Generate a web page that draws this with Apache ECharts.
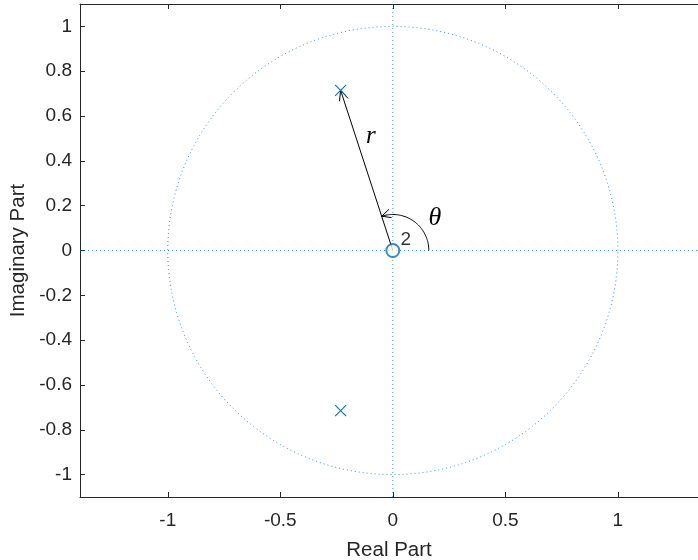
<!DOCTYPE html>
<html><head><meta charset="utf-8">
<script src="https://cdn.jsdelivr.net/npm/echarts@6/dist/echarts.min.js"></script>
<style>html,body{margin:0;padding:0;background:#fff}#c{width:698px;height:560px}</style>
</head><body><div id="c"></div>
<script>
// ---- data ----
const poleRe = [-0.232, -0.232];
const poleIm = [0.715, -0.715];
const zeroRe = [0];
const zeroIm = [0];
const zeroMult = ['2'];
const xTicks = [-1, -0.5, 0, 0.5, 1];
const yTicks = [-1, -0.8, -0.6, -0.4, -0.2, 0, 0.2, 0.4, 0.6, 0.8, 1];
const xRange = [-1.39, 1.356];
const yRange = [-1.1, 1.1];
const unitRadius = [1];
const rLabelPos = [-0.098, 0.51];
const thetaLabelPos = [0.187, 0.143];
const thetaArcRadius = [0.16];

// ---- styles ----
const TXT = '#262626';
const BLUE = '#0072BD';
const FONT = '"Liberation Sans", Arial, Helvetica, sans-serif';

const chart = echarts.init(document.getElementById('c'), null, {renderer: 'canvas'});
const fmt = v => String(Math.round(v * 10) / 10);

function arrowHead(tip, dir, len, half) {
  const pts = [];
  for (const s of [1, -1]) {
    const a = Math.atan2(dir[1], dir[0]) + Math.PI + s * half;
    pts.push([tip[0] + len * Math.cos(a), tip[1] + len * Math.sin(a)]);
  }
  return [pts[0], tip, pts[1]];
}

const option = {
  animation: false,
  backgroundColor: '#fff',
  grid: {left: 80, right: 0, top: 4, bottom: 63, containLabel: false, outerBoundsMode: 'none'},
  xAxis: [{
    type: 'value', position: 'bottom', min: xRange[0], max: xRange[1],
    axisLine: {show: true, onZero: false, lineStyle: {color: TXT, width: 1}},
    axisTick: {show: true, inside: true, length: 5, customValues: xTicks, lineStyle: {color: TXT}},
    axisLabel: {show: true, customValues: xTicks, formatter: fmt, color: TXT, fontSize: 19, fontFamily: FONT, margin: 14},
    splitLine: {show: false},
    name: 'Real Part', nameLocation: 'middle', nameGap: 43,
    nameTextStyle: {color: TXT, fontSize: 20.5, fontFamily: FONT}
  }, {
    type: 'value', position: 'top', min: xRange[0], max: xRange[1],
    axisLine: {show: true, onZero: false, lineStyle: {color: TXT, width: 1}},
    axisTick: {show: true, inside: true, length: 5, customValues: xTicks, lineStyle: {color: TXT}},
    axisLabel: {show: false}, splitLine: {show: false}
  }],
  yAxis: [{
    type: 'value', position: 'left', min: yRange[0], max: yRange[1],
    axisLine: {show: true, onZero: false, lineStyle: {color: TXT, width: 1}},
    axisTick: {show: true, inside: true, length: 5, customValues: yTicks, lineStyle: {color: TXT}},
    axisLabel: {show: true, customValues: yTicks, formatter: fmt, color: TXT, fontSize: 19, fontFamily: FONT, margin: 8},
    splitLine: {show: false},
    name: 'Imaginary Part', nameLocation: 'middle', nameGap: 46, nameRotate: 90,
    nameTextStyle: {color: TXT, fontSize: 20.5, fontFamily: FONT}
  }],
  series: [
    { // unit circle + dotted axes
      type: 'custom', xAxisIndex: 0, yAxisIndex: 0, silent: true, z: 1,
      data: [[unitRadius[0]]],
      renderItem: function (params, api) {
        const R = api.value(0);
        const pts = [];
        for (let i = 0; i <= 360; i++) {
          const t = i * Math.PI / 180;
          pts.push(api.coord([R * Math.cos(t), R * Math.sin(t)]));
        }
        const dash = {stroke: BLUE, lineWidth: 1, lineDash: [1, 3], fill: null, opacity: 0.75};
        return {type: 'group', children: [
          {type: 'polyline', shape: {points: pts}, style: dash},
          {type: 'polyline', shape: {points: [api.coord([xRange[0], 0]), api.coord([xRange[1], 0])]}, style: dash},
          {type: 'polyline', shape: {points: [api.coord([0, yRange[0]]), api.coord([0, yRange[1]])]}, style: dash}
        ]};
      }
    },
    { // poles (x markers)
      type: 'custom', xAxisIndex: 0, yAxisIndex: 0, silent: true, z: 3,
      data: poleRe.map((re, i) => [re, poleIm[i]]),
      renderItem: function (params, api) {
        const p = api.coord([api.value(0), api.value(1)]);
        const h = 5.5;
        const st = {stroke: BLUE, lineWidth: 1.1, fill: null};
        return {type: 'group', children: [
          {type: 'line', shape: {x1: p[0] - h, y1: p[1] - h, x2: p[0] + h, y2: p[1] + h}, style: st},
          {type: 'line', shape: {x1: p[0] - h, y1: p[1] + h, x2: p[0] + h, y2: p[1] - h}, style: st}
        ]};
      }
    },
    { // zeros
      type: 'scatter', xAxisIndex: 0, yAxisIndex: 0, z: 3,
      data: zeroRe.map((re, i) => [re, zeroIm[i]]),
      symbol: 'emptyCircle', symbolSize: 13,
      itemStyle: {color: BLUE, borderColor: BLUE, borderWidth: 1.2},
      label: {show: true, position: 'inside', offset: [13, -11], formatter: p => zeroMult[p.dataIndex],
        color: '#000', fontSize: 19, fontFamily: FONT}
    },
    { // r vector and theta arc
      type: 'custom', xAxisIndex: 0, yAxisIndex: 0, silent: true, z: 2,
      data: [[poleRe[0], poleIm[0], thetaArcRadius[0]]],
      renderItem: function (params, api) {
        const o = api.coord([0, 0]);
        const tip = api.coord([api.value(0), api.value(1)]);
        const dx = tip[0] - o[0], dy = tip[1] - o[1];
        const L = Math.hypot(dx, dy);
        const st = {stroke: '#000', lineWidth: 1, fill: null};
        const head = arrowHead(tip, [dx / L, dy / L], 11, 0.42);
        const R = api.size([api.value(2), 0])[0];
        const ang = Math.atan2(api.value(1), api.value(0));
        const arc = [];
        const N = 60;
        for (let i = 0; i <= N; i++) {
          const t = ang * i / N;
          arc.push([o[0] + R * Math.cos(t), o[1] - R * Math.sin(t)]);
        }
        const end = arc[arc.length - 1];
        const tdir = [-Math.sin(ang), -Math.cos(ang)];
        const head2 = arrowHead(end, tdir, 10, 0.45);
        return {type: 'group', children: [
          {type: 'polyline', shape: {points: [o, tip]}, style: st},
          {type: 'polyline', shape: {points: head}, style: st},
          {type: 'polyline', shape: {points: arc}, style: st},
          {type: 'polyline', shape: {points: head2}, style: st}
        ]};
      }
    },
    { // r and theta labels
      type: 'custom', xAxisIndex: 0, yAxisIndex: 0, silent: true, z: 4,
      data: [[rLabelPos[0], rLabelPos[1], 0], [thetaLabelPos[0], thetaLabelPos[1], 1]],
      renderItem: function (params, api) {
        const p = api.coord([api.value(0), api.value(1)]);
        const isTheta = api.value(2) === 1;
        return {type: 'text', x: p[0], y: p[1], style: {
          text: isTheta ? 'θ' : 'r',
          fontSize: isTheta ? 26 : 25, fontStyle: 'italic',
          fontFamily: '"Liberation Serif", "DejaVu Serif", serif',
          fill: '#000', align: 'center', verticalAlign: 'middle'
        }};
      }
    }
  ]
};
chart.setOption(option);
</script>
</body></html>
